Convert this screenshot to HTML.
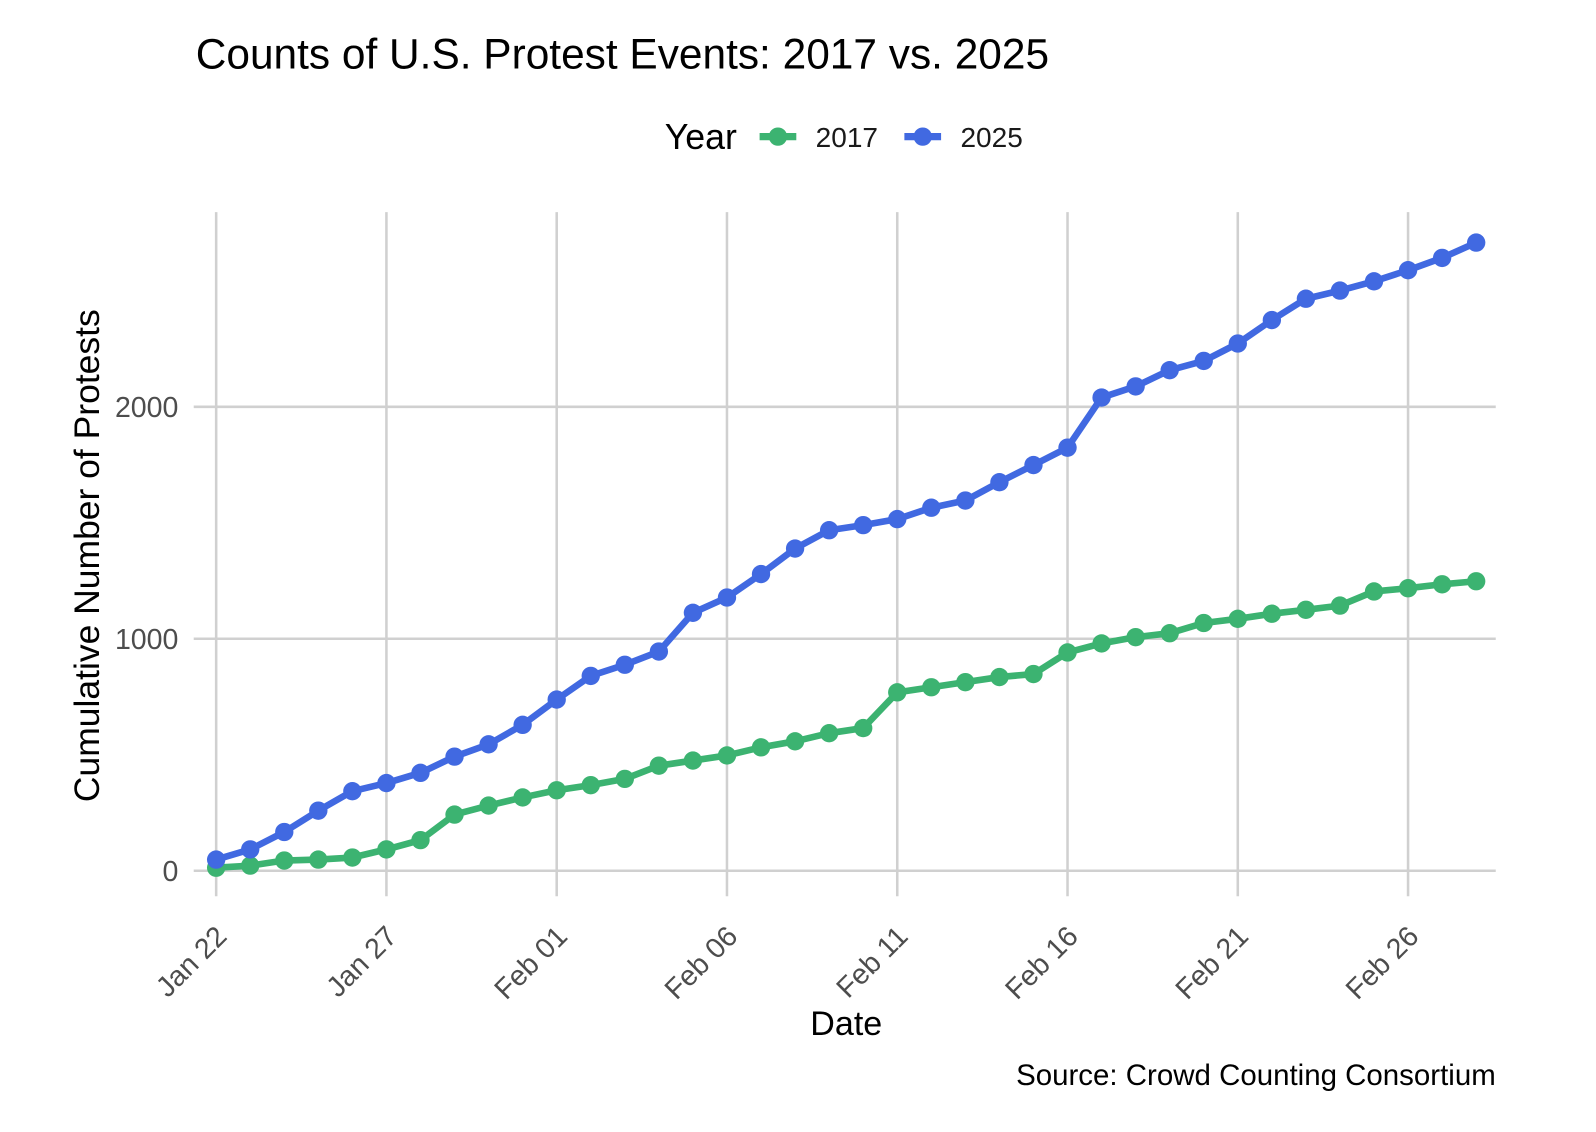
<!DOCTYPE html>
<html><head><meta charset="utf-8"><style>
body{margin:0;background:#fff;}
svg{display:block;font-family:"Liberation Sans",Arial,sans-serif;}
</style></head><body>
<svg id="chart" width="1596" height="1132" viewBox="0 0 1596 1132">
<rect width="1596" height="1132" fill="#fff"/>
<g transform="scale(1.0196)">
<text x="192" y="67" font-size="41.6" fill="#000">Counts of U.S. Protest Events: 2017 vs. 2025</text>
<g>
<text x="652" y="146" font-size="35" fill="#000">Year</text>
<g><line x1="745" y1="134" x2="781" y2="134" stroke="#3cb371" stroke-width="7"/><circle cx="763" cy="134" r="9" fill="#3cb371"/><text x="800" y="144" font-size="27.5" fill="#1a1a1a">2017</text></g>
<g><line x1="887" y1="134" x2="923" y2="134" stroke="#4169e1" stroke-width="7"/><circle cx="905" cy="134" r="9" fill="#4169e1"/><text x="942" y="144" font-size="27.5" fill="#1a1a1a">2025</text></g>
</g>
<g id="grid"></g><g id="axes"></g><g id="series"></g>
<text transform="translate(97,545) rotate(-90)" text-anchor="middle" font-size="34.8" fill="#000">Cumulative Number of Protests</text>
<text x="830" y="1015" text-anchor="middle" font-size="33.4" fill="#000">Date</text>
<text x="1467" y="1064" text-anchor="end" font-size="28.9" fill="#000">Source: Crowd Counting Consortium</text>
</g>
</svg>
<script>
const dayLabels=["Jan 22","Jan 27","Feb 01","Feb 06","Feb 11","Feb 16","Feb 21","Feb 26"];
const yTicks=[0,1000,2000];
const values2017=[13,22,44,48,57,92,132,242,281,316,347,369,396,453,475,497,532,558,593,615,769,791,813,835,848,941,980,1007,1024,1068,1086,1108,1125,1143,1204,1218,1235,1248];
const values2025=[48,92,167,259,343,378,422,492,545,629,738,840,888,945,1112,1178,1279,1389,1468,1490,1516,1565,1596,1675,1749,1824,2040,2088,2158,2198,2273,2374,2466,2501,2541,2589,2642,2708];
const NS="http://www.w3.org/2000/svg";
const x=d=>212+d*(1381-212)/35;
const y=v=>854-v*(854-399)/2000;
function mk(tag,attrs,parent){const e=document.createElementNS(NS,tag);for(const k in attrs)e.setAttribute(k,attrs[k]);parent.appendChild(e);return e;}
const grid=document.getElementById('grid'),axes=document.getElementById('axes'),series=document.getElementById('series');
dayLabels.forEach((lab,i)=>{
  const gx=x(i*5);
  const l=mk('line',{x1:gx,x2:gx,y1:208,y2:879,stroke:'#d0d0d0','stroke-width':2.5},grid);
  
  
  const t=mk('text',{transform:`translate(${gx+12},${920}) rotate(-45)`,'text-anchor':'end','font-size':28,fill:'#4d4d4d'},axes);
  t.textContent=lab;
  
  
});
yTicks.forEach(v=>{
  const l=mk('line',{x1:190,x2:1467,y1:y(v),y2:y(v),stroke:'#d0d0d0','stroke-width':2.5},grid);
  
  
  const t=mk('text',{x:175,y:y(v)+10,'text-anchor':'end','font-size':28,fill:'#4d4d4d'},axes);
  t.textContent=v;
  
  
});
function draw(vals,color,name){
  const p=mk('polyline',{points:vals.map((v,i)=>x(i)+','+y(v)).join(' '),fill:'none',stroke:color,'stroke-width':6.5,'stroke-linejoin':'round'},series);
  
  
  vals.forEach((v,i)=>{
    const c=mk('circle',{cx:x(i),cy:y(v),r:9,fill:color},series);
    
    
  });
}
draw(values2017,'#3cb371','series-2017');
draw(values2025,'#4169e1','series-2025');
</script>
</body></html>
